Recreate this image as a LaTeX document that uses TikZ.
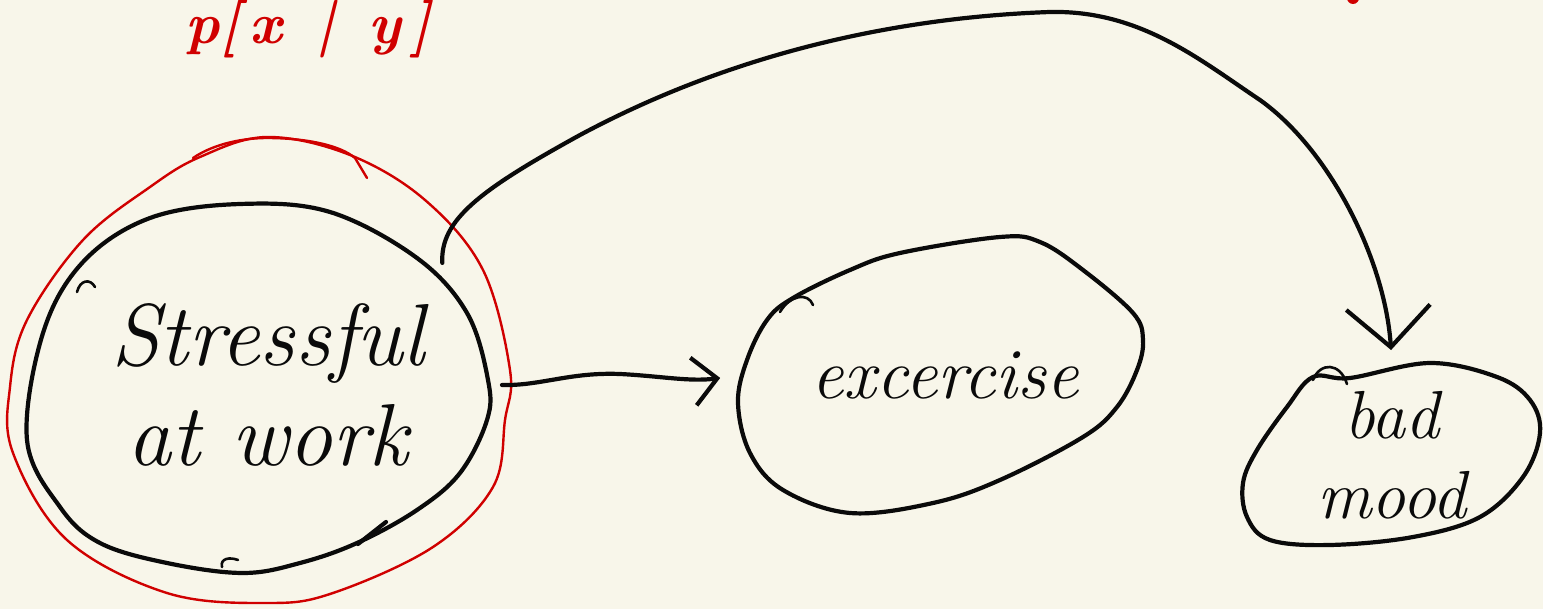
\documentclass[tikz,border=0pt]{standalone}
\usepackage{tikz}
\usetikzlibrary{arrows.meta,shapes.geometric}
\usepackage{xcolor}
\definecolor{paper}{HTML}{F8F6EA}
\definecolor{ink}{HTML}{0A0A0A}
\definecolor{redink}{HTML}{D00000}

\begin{document}
\begin{tikzpicture}[
              x=0.5pt,
              y=-0.5pt,
              blob/.style={ellipse, inner sep=0pt, outer sep=0pt, align=center, text=ink},
              pen/.style={draw=ink, line width=2.1pt, line cap=round, line join=round},
              thinpen/.style={draw=ink, line width=1.3pt, line cap=round},
              redpen/.style={draw=redink, line width=1.2pt, line cap=round},
              arrow/.style={-{Straight Barb[length=12pt,width=24pt]}, pen},
              longarrow/.style={-{Straight Barb[length=20pt,width=42pt]}, pen}
            ]
            \useasboundingbox (0,0) rectangle (1543,609);
            \fill[paper] (0,0) rectangle (1543,609);

            % red note at the top edge
            \node[anchor=base west, inner sep=0pt, text=redink, font=\fontsize{29}{32}\selectfont\bfseries\itshape] (note) at (185,44) {p[\,x \,|\, y\,]};
            \fill[redink] (1353,-2) circle (6);

            \node[blob, minimum width=234pt, minimum height=183pt, font=\fontsize{44}{50}\selectfont\itshape] (stress) at (268,385) {Stressful\\at work};
            \node[blob, minimum width=203pt, minimum height=140pt, font=\fontsize{36}{40}\selectfont\itshape] (exer) at (945,375) {excercise};
            \node[blob, minimum width=150pt, minimum height=91pt, font=\fontsize{34}{40}\selectfont\itshape] (mood) at (1392,455) {bad\\mood};

            % hand drawn outlines
            \draw[pen] plot[smooth cycle, tension=0.6] coordinates {(43,333) (83,262) (150,218) (240,204) (330,212) (417,258) (467,313) (488,380) (487,420) (460,473) (417,510) (357,543) (300,563) (243,573) (167,563) (100,543) (60,507) (27,440)};
            \draw[thinpen] (77,292) .. controls (80,280) and (90,278) .. (95,287);
            \draw[thinpen] (222,567) .. controls (220,558) and (230,557) .. (238,560);
            \draw[pen] (358,544) -- (386,522);

            \draw[redpen] plot[smooth cycle, tension=0.6] coordinates {(200,157) (267,137) (350,155) (425,200) (483,270) (510,370) (505,420) (493,487) (433,547) (333,593) (267,603) (167,593) (67,540) (13,453) (10,387) (27,320) (83,240) (150,187)};
            \draw[redpen] (193,158) .. controls (215,143) and (245,138) .. (267,138) .. controls (305,138) and (340,145) .. (355,158) -- (367,178);

            \draw[pen] plot[smooth cycle, tension=0.6] coordinates {(793,298) (850,270) (900,253) (1000,237) (1040,242) (1083,270) (1133,313) (1143,340) (1137,370) (1117,407) (1083,437) (1000,480) (933,503) (850,513) (783,490) (750,453) (738,403) (747,360) (767,320)};
            \draw[thinpen] (780,312) .. controls (790,295) and (808,292) .. (813,305);

            \draw[pen] plot[smooth cycle, tension=0.6] coordinates {(1313,377) (1350,378) (1430,363) (1497,377) (1530,400) (1540,433) (1523,477) (1480,517) (1413,537) (1330,545) (1270,540) (1247,517) (1243,483) (1257,450) (1287,407)};
            \draw[thinpen] (1313,380) .. controls (1320,362) and (1340,362) .. (1347,384);

            % connectors
            \draw[arrow, shorten >=11pt] (stress.east) .. controls (540,386) and (570,372) .. (620,374) .. controls (660,376) and (690,382) .. (exer.west);
            \draw[longarrow, shorten >=7pt] (stress.35) .. controls (440,220) and (480,190) .. (580,135) .. controls (720,60) and (880,18) .. (1050,12) .. controls (1140,10) and (1200,60) .. (1260,100) .. controls (1330,150) and (1385,260) .. (mood.north);
            \end{tikzpicture}
\end{document}
